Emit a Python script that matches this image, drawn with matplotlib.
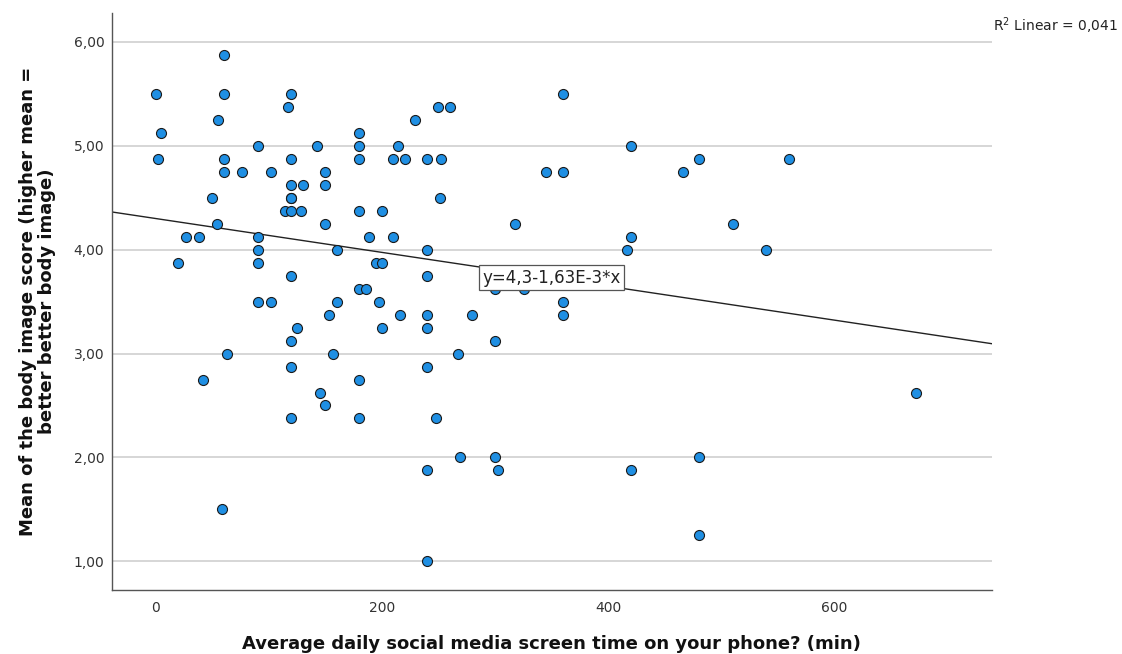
import matplotlib
matplotlib.use("Agg")
import matplotlib.pyplot as plt
import numpy as np

screen_time = [0, 60, 60, 120, 117, 55, 229, 5, 90, 143, 180, 180, 214, 2, 60, 120, 180, 210, 220,
               60, 76, 102, 150, 120, 130, 150, 50, 120, 120, 114, 120, 128, 180, 200, 54, 150,
               27, 38, 90, 189, 210, 90, 160, 20, 90, 195, 200, 120, 180, 186, 90, 102, 160, 197,
               153, 216, 125, 200, 120, 63, 157, 120, 42, 180, 145, 150, 120, 180, 59,
               240, 252, 250, 260, 360, 251, 420, 345, 360, 466, 480, 318, 420, 417, 240, 240,
               300, 326, 360, 240, 280, 360, 240, 300, 267, 240, 248, 269, 300, 480, 240, 303,
               420, 480, 240, 560, 510, 540, 672]
body_image = [5.5, 5.875, 5.5, 5.5, 5.375, 5.25, 5.25, 5.125, 5.0, 5.0, 5.125, 5.0, 5.0, 4.875, 4.875,
              4.875, 4.875, 4.875, 4.875, 4.75, 4.75, 4.75, 4.75, 4.625, 4.625, 4.625, 4.5, 4.5,
              4.5, 4.375, 4.375, 4.375, 4.375, 4.375, 4.25, 4.25, 4.125, 4.125, 4.125, 4.125,
              4.125, 4.0, 4.0, 3.875, 3.875, 3.875, 3.875, 3.75, 3.625, 3.625, 3.5, 3.5, 3.5, 3.5,
              3.375, 3.375, 3.25, 3.25, 3.125, 3.0, 3.0, 2.875, 2.75, 2.75, 2.625, 2.5, 2.375,
              2.375, 1.5,
              4.875, 4.875, 5.375, 5.375, 5.5, 4.5, 5.0, 4.75, 4.75, 4.75, 4.875, 4.25, 4.125,
              4.0, 4.0, 3.75, 3.625, 3.625, 3.5, 3.375, 3.375, 3.375, 3.25, 3.125, 3.0, 2.875,
              2.375, 2.0, 2.0, 2.0, 1.875, 1.875, 1.875, 1.25, 1.0, 4.875, 4.25, 4.0, 2.625]

intercept = 4.3
slope = -1.63e-3
fit_label = "y=4,3-1,63E-3*x"
r2_label = "R$^2$ Linear = 0,041"
x_ticks = [0, 200, 400, 600]
y_ticks = [1, 2, 3, 4, 5, 6]
y_tick_labels = ["1,00", "2,00", "3,00", "4,00", "5,00", "6,00"]
x_title = "Average daily social media screen time on your phone? (min)"
y_title = "Mean of the body image score (higher mean =\nbetter better body image)"

fig = plt.figure(figsize=(11.22, 6.54), dpi=100)
ax = fig.add_axes([0.0996, 0.0979, 0.7845, 0.8818])
xmin, xmax = -38.9, 739.4
ax.set_xlim(xmin, xmax)
ax.set_ylim(0.724, 6.276)

for yt in y_ticks:
    ax.axhline(yt, color="#d6d6d6", lw=1.4, zorder=0)

xs = np.array([xmin, xmax])
ax.plot(xs, intercept + slope * xs, color="#222222", lw=1.0, zorder=2)

ax.scatter(screen_time, body_image, s=52, facecolor="#1f8fe3", edgecolor="#1a1a1a",
           linewidths=0.8, zorder=3)

xl = 350
ax.text(xl, intercept + slope * xl, fit_label, ha="center", va="center", fontsize=12,
        color="#222222", zorder=5,
        bbox=dict(boxstyle="square,pad=0.2", facecolor="white", edgecolor="#555555", lw=0.9))

ax.set_xticks(x_ticks)
ax.set_xticklabels([str(v) for v in x_ticks])
ax.set_yticks(y_ticks)
ax.set_yticklabels(y_tick_labels)
ax.tick_params(axis="both", length=0, labelsize=10, labelcolor="#333333")
ax.tick_params(axis="x", pad=8)
ax.tick_params(axis="y", pad=5.3)

for s in ["top", "right"]:
    ax.spines[s].set_visible(False)
for s in ["left", "bottom"]:
    ax.spines[s].set_color("#555555")
    ax.spines[s].set_linewidth(1.0)

ax.set_xlabel(x_title, fontsize=13, fontweight="bold", color="#111111", labelpad=14)
ax.set_ylabel(y_title, fontsize=13, fontweight="bold", color="#111111", labelpad=13,
              linespacing=1.05)

fig.text(993 / 1122, 1 - 26 / 654, r2_label, fontsize=10, color="#222222", ha="left", va="center")

fig.savefig("out.png", dpi=100)
